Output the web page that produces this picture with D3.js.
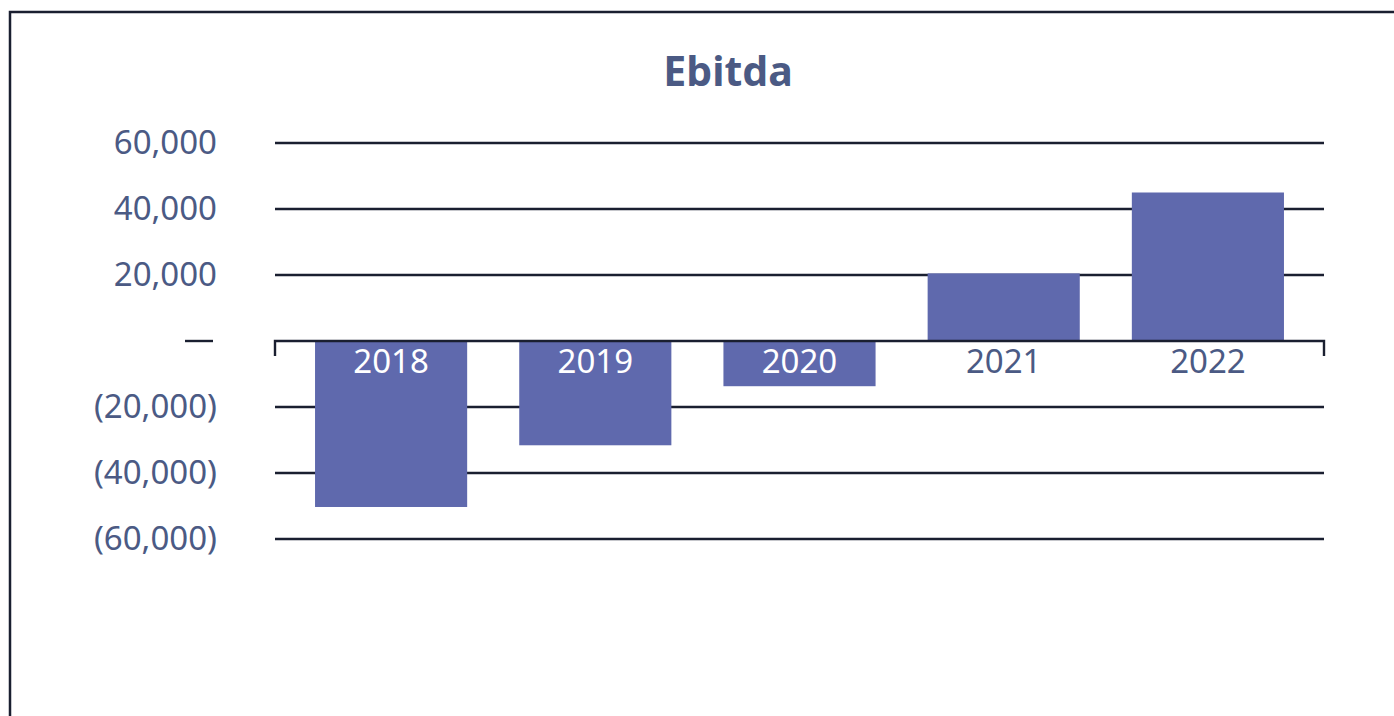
<!DOCTYPE html>
<html>
<head>
<meta charset="utf-8">
<script src="https://cdn.jsdelivr.net/npm/d3@7"></script>
<style>
  html, body { margin: 0; padding: 0; background: #fff; }
  svg { display: block; }
</style>
</head>
<body>
<svg id="chart" width="1394" height="716"></svg>
<script>
const categories = ["2018", "2019", "2020", "2021", "2022"];
const values = [-50300, -31600, -13700, 20500, 45000];
const tickValues = [60000, 40000, 20000, 0, -20000, -40000, -60000];
const tickLabels = ["60,000", "40,000", "20,000", "—", "(20,000)", "(40,000)", "(60,000)"];
const title = "Ebitda";

const textColor = "#4b5a84";
const barColor = "#5f69ad";
const lineColor = "#1a1f30";
const font = "'Noto Sans', 'Open Sans', sans-serif";

const svg = d3.select("#chart");

// outer frame (extends past right/bottom edges)
svg.append("rect")
  .attr("x", 10).attr("y", 12)
  .attr("width", 1420).attr("height", 760)
  .attr("fill", "none").attr("stroke", lineColor).attr("stroke-width", 2.5);

svg.append("text")
  .attr("x", 728).attr("y", 70)
  .attr("text-anchor", "middle").attr("dominant-baseline", "central")
  .attr("font-family", font).attr("font-weight", 700).attr("font-size", 41)
  .attr("fill", textColor)
  .text(title);

const plotLeft = 275, plotRight = 1324;
const y = d3.scaleLinear().domain([-60000, 60000]).range([539, 143]);
const x = d3.scaleBand().domain(categories).range([289, 1310])
  .paddingInner(0.255).paddingOuter(0.1275);

// gridlines
svg.append("g").selectAll("line")
  .data(tickValues.filter(v => v !== 0))
  .join("line")
  .attr("x1", plotLeft).attr("x2", plotRight)
  .attr("y1", d => y(d)).attr("y2", d => y(d))
  .attr("stroke", lineColor).attr("stroke-width", 2.4);

// y labels
const labG = svg.append("g");
tickValues.forEach((v, i) => {
  if (v === 0) {
    labG.append("line")
      .attr("x1", 185).attr("x2", 213)
      .attr("y1", y(0)).attr("y2", y(0))
      .attr("stroke", lineColor).attr("stroke-width", 2.4);
  } else {
    labG.append("text")
      .attr("x", 217).attr("y", y(v) - 2)
      .attr("text-anchor", "end").attr("dominant-baseline", "central")
      .attr("font-family", font).attr("font-size", 33)
      .attr("fill", textColor)
      .text(tickLabels[i]);
  }
});

// bars
svg.append("g").selectAll("rect")
  .data(categories.map((c, i) => ({ c, v: values[i] })))
  .join("rect")
  .attr("x", d => x(d.c))
  .attr("width", x.bandwidth())
  .attr("y", d => y(Math.max(0, d.v)))
  .attr("height", d => Math.abs(y(d.v) - y(0)))
  .attr("fill", barColor);

// zero axis with end ticks
const z = y(0);
svg.append("path")
  .attr("d", `M${plotLeft},${z + 15}V${z}H${plotRight}V${z + 15}`)
  .attr("fill", "none").attr("stroke", lineColor).attr("stroke-width", 2.4);

// category labels
svg.append("g").selectAll("text")
  .data(categories.map((c, i) => ({ c, v: values[i] })))
  .join("text")
  .attr("x", d => x(d.c) + x.bandwidth() / 2)
  .attr("y", z + 19)
  .attr("text-anchor", "middle").attr("dominant-baseline", "central")
  .attr("font-family", font).attr("font-size", 33)
  .attr("fill", d => d.v < 0 ? "#ffffff" : textColor)
  .text(d => d.c);
</script>
</body>
</html>
